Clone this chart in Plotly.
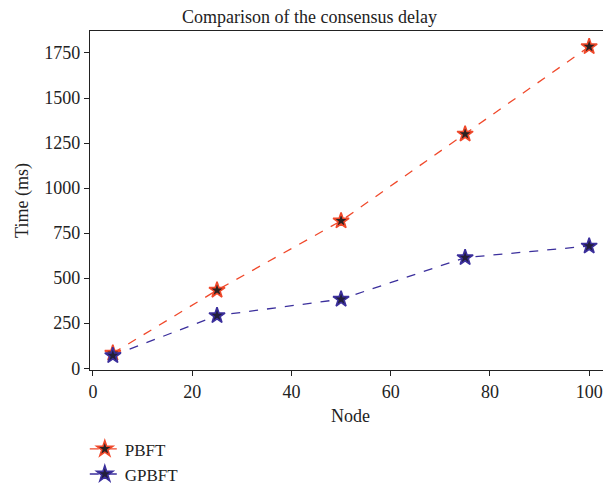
import plotly.graph_objects as go

nodes = [4, 25, 50, 75, 100]
pbft = [83, 433, 818, 1300, 1785]
gpbft = [70, 292, 383, 614, 678]
x_ticks = [0, 20, 40, 60, 80, 100]
y_ticks = [0, 250, 500, 750, 1000, 1250, 1500, 1750]

FONT = "Liberation Serif"

fig = go.Figure()
fig.add_trace(go.Scatter(
    x=nodes, y=pbft, name="PBFT", mode="lines+markers",
    line=dict(color="#f0492b", width=1.3, dash="dash"),
    marker=dict(symbol="star", size=12, color="#2a2222",
                line=dict(color="#f0492b", width=1.6)),
))
fig.add_trace(go.Scatter(
    x=nodes, y=gpbft, name="GPBFT", mode="lines+markers",
    line=dict(color="#3b2f9c", width=1.3, dash="dash"),
    marker=dict(symbol="star", size=12, color="#221f3a",
                line=dict(color="#3b2f9c", width=1.6)),
))

fig.update_layout(
    width=603, height=480,
    margin=dict(l=82, r=0, t=23, b=118, autoexpand=False),
    paper_bgcolor="white", plot_bgcolor="white",
    font=dict(family=FONT, size=18, color="#222"),
    title=dict(text="Comparison of the consensus delay", x=0.5, xanchor="center",
               y=1 - 8.5 / 480, yanchor="middle",
               font=dict(family=FONT, size=18, color="#222")),
    showlegend=True,
    legend=dict(orientation="v", x=-0.01, xanchor="left",
                yref="container", y=0.118, yanchor="top",
                font=dict(family=FONT, size=17, color="#222"),
                bgcolor="rgba(0,0,0,0)", tracegroupgap=0, itemwidth=30),
)
fig.update_xaxes(
    range=[-0.6, 104.4], tickvals=x_ticks, showgrid=False, zeroline=False,
    showline=True, linecolor="#222", linewidth=1.3, mirror=True,
    ticks="outside", ticklen=5, tickcolor="#222", automargin=False,
    tickfont=dict(family=FONT, size=18),
    title=dict(text="Node", font=dict(family=FONT, size=18), standoff=8),
)
fig.update_yaxes(
    range=[-10, 1872], tickvals=y_ticks, showgrid=False, zeroline=False,
    showline=True, linecolor="#222", linewidth=1.3, automargin=False,
    ticks="outside", ticklen=5, tickcolor="#222",
    tickfont=dict(family=FONT, size=18),
    title=dict(text="Time (ms)", font=dict(family=FONT, size=18), standoff=10),
)

fig.write_html("out.html")
